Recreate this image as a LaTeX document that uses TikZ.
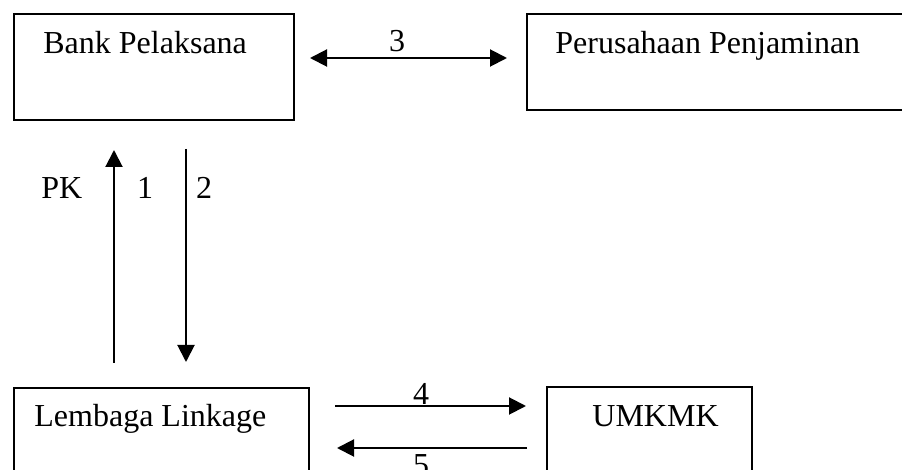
\documentclass[tikz,border=0pt]{standalone}
\usepackage{fontspec}
\setmainfont{Liberation Serif}
\usetikzlibrary{arrows.meta,calc}
\tikzset{
  box/.style={draw, line width=1pt, rectangle, inner sep=0pt, anchor=north west},
  txt/.style={anchor=base west, inner sep=0pt, font=\fontsize{16}{19}\selectfont},
  num/.style={anchor=base, inner sep=0pt, font=\fontsize{16}{19}\selectfont},
  arr/.style={line width=1pt, -{Triangle[length=8.5pt,width=8.5pt]}},
  darr/.style={line width=1pt, {Triangle[length=8.5pt,width=8.5pt]}-{Triangle[length=8.5pt,width=8.5pt]}}
}
\begin{document}
\begin{tikzpicture}[x=0.5pt,y=-0.5pt]
\useasboundingbox (0,0) rectangle (902,470);
\clip (0,0) rectangle (902,470);
% boxes
\node[box, minimum width=140pt, minimum height=53pt] (bp) at (13,13) {};
\node[box, minimum width=200pt, minimum height=48pt] (pp) at (526,13) {};
\node[box, minimum width=147.5pt, minimum height=60pt] (ll) at (13,387) {};
\node[box, minimum width=102.5pt, minimum height=60pt] (um) at (546,386) {};
% texts
\node[txt] (tbp) at (43,54) {Bank Pelaksana};
\node[txt] (tpp) at (555,54) {Perusahaan Penjaminan};
\node[txt] (tll) at (34,427) {Lembaga Linkage};
\node[txt] (tum) at (592,427) {UMKMK};
% arrows
\draw[darr, shorten <=7.5pt, shorten >=9.5pt] ($(bp.north east)+(0,45)$) -- ($(pp.north west)+(0,45)$);
\draw[arr, shorten <=12pt, shorten >=14.5pt] ($(ll.north west)+(101,0)$) -- ($(bp.south west)+(101,0)$);
\draw[arr, shorten <=14pt, shorten >=12.5pt] ($(bp.south west)+(173,0)$) -- ($(ll.north west)+(173,0)$);
\draw[arr, shorten <=12.5pt, shorten >=10pt] ($(ll.north east)+(0,19)$) -- ($(um.north west)+(0,20)$);
\draw[arr, shorten <=9.5pt, shorten >=13.5pt] ($(um.north west)+(0,62)$) -- ($(ll.north east)+(0,61)$);
% labels
\node[num] (l3) at (397,52) {3};
\node[txt] (lpk) at (41,199) {PK};
\node[num] (l1) at (145,199) {1};
\node[num] (l2) at (204,199) {2};
\node[num] (l4) at (421,405) {4};
\node[num] (l5) at (421,476) {5};
\end{tikzpicture}
\end{document}
